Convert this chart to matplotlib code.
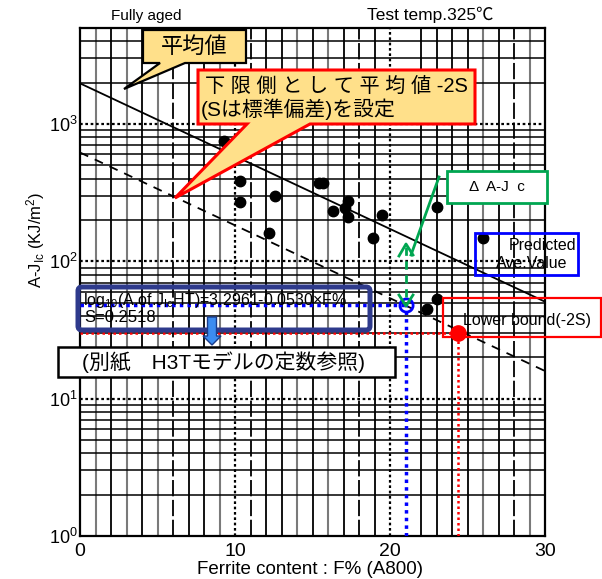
import matplotlib
matplotlib.use('Agg')
import matplotlib.pyplot as plt
from matplotlib.transforms import Affine2D
from matplotlib.patches import Polygon, Rectangle, FancyBboxPatch, FancyArrow
from matplotlib.lines import Line2D
from matplotlib.ticker import FixedLocator, FixedFormatter, NullLocator

plt.rcParams['font.family'] = ['Liberation Sans', 'Noto Sans CJK JP', 'DejaVu Sans']
plt.rcParams['mathtext.fontset'] = 'custom'
plt.rcParams['mathtext.rm'] = 'Liberation Sans'
plt.rcParams['mathtext.it'] = 'Liberation Sans:italic'
plt.rcParams['mathtext.bf'] = 'Liberation Sans:bold'

# ---------------- data ----------------
ferrite = [9.3, 10.3, 10.3, 12.6, 12.2, 15.4, 15.7, 16.3, 17.3, 17.1, 17.3, 19.5, 18.9, 23.0, 26.0, 23.0, 22.4]
ajic = [757, 387, 269, 297, 161, 374, 374, 231, 273, 245, 210, 216, 149, 249, 148, 53, 45]

mean_x = [0, 30]
mean_y = [1977, 50.8]
lower_x = [0, 30]
lower_y = [620, 15.9]

pred_F, pred_J = 21.0, 48.0
low_F, low_J = 24.4, 30.2

x_ticks = [0, 10, 20, 30]
x_tick_labels = ['0', '10', '20', '30']
y_ticks = [1, 10, 100, 1000]
y_tick_labels = [r'$10^{0}$', r'$10^{1}$', r'$10^{2}$', r'$10^{3}$']

W, H = 602, 579
fig = plt.figure(figsize=(W / 100, H / 100), dpi=100)
ax = fig.add_axes([80 / W, 1 - 536 / H, 465 / W, 508 / H])
ax.set_yscale('log')
ax.set_xlim(0, 30)
ax.set_ylim(1, 5000)
ax.xaxis.set_major_locator(FixedLocator(x_ticks))
ax.xaxis.set_major_formatter(FixedFormatter(x_tick_labels))
ax.yaxis.set_major_locator(FixedLocator(y_ticks))
ax.yaxis.set_major_formatter(FixedFormatter(y_tick_labels))
ax.yaxis.set_minor_locator(NullLocator())
ax.tick_params(axis='x', length=0, labelsize=14, pad=5)
ax.tick_params(axis='y', length=0, labelsize=13, pad=1.5)
for s in ax.spines.values():
    s.set_linewidth(1.6)

# graph-paper grid
black_v = [2, 4, 7, 8, 12, 13, 15, 17, 19, 22, 23, 24, 25, 27]
gray_v = [1, 3, 5, 9, 14, 16, 26, 29]
dash_v = [6, 11, 18, 28]
dot_v = [10, 20]
for v in black_v:
    ax.axvline(v, color='k', lw=1.3, zorder=1)
for v in gray_v:
    ax.axvline(v, color='#7a7a7a', lw=1.5, zorder=1)
for v in dash_v:
    ax.axvline(v, color='k', lw=1.3, ls=(0, (9, 2)), zorder=1)
for v in dot_v:
    ax.axvline(v, color='k', lw=1.6, ls=(0, (1.2, 1.2)), zorder=1)
for d in [1, 10, 100, 1000]:
    for m in range(2, 10):
        if m * d < 5000:
            ax.axhline(m * d, color='k', lw=1.1, zorder=1)
for d in [10, 100, 1000]:
    ax.axhline(d, color='k', lw=1.6, ls=(0, (1.2, 1.2)), zorder=1)

# lines and points
ax.plot(mean_x, mean_y, color='k', lw=1.3, zorder=3)
ax.plot(lower_x, lower_y, color='k', lw=1.3, ls=(0, (5, 4)), zorder=3)
ax.plot(ferrite, ajic, 'o', color='k', ms=7.5, zorder=4)

ax.plot([0, pred_F], [pred_J, pred_J], color='#0000ff', lw=2.5, ls=(0, (1, 1.2)), zorder=5)
ax.plot([pred_F, pred_F], [1, pred_J], color='#0000ff', lw=2.5, ls=(0, (1, 1.2)), zorder=5)
ax.plot([0, low_F], [low_J, low_J], color='#ff0000', lw=1.8, ls=(0, (1, 1.2)), zorder=5)
ax.plot([low_F, low_F], [1, low_J], color='#ff0000', lw=1.8, ls=(0, (1, 1.2)), zorder=5)
ax.plot([low_F], [low_J], 'o', color='#ff0000', ms=11, zorder=6)
ax.plot([pred_F], [pred_J], 'o', mfc='none', mec='#0000ff', mew=2, ms=9.5, zorder=6)

# ---------------- annotations in pixel coordinates ----------------
pixu = Affine2D().scale(1 / W, 1 / H) + fig.transFigure


def P(pts):
    return [(x, H - y) for x, y in pts]


def ftext(x, y, s, **kw):
    fig.text(x, H - y, s, transform=pixu, **kw)


def rect(x0, y0, x1, y1, **kw):
    r = Rectangle((x0, H - y1), x1 - x0, y1 - y0, transform=pixu, **kw)
    fig.add_artist(r)


yellow = '#FFE08A'

# 平均値 callout
fig.add_artist(Polygon(P([(143, 30), (246, 30), (246, 63), (185, 63), (124, 89), (160, 63), (143, 63)]),
                       closed=True, fc=yellow, ec='k', lw=1.6, transform=pixu, zorder=10))
ftext(194, 47, '平均値', fontsize=16, ha='center', va='center', zorder=11)

# red callout
fig.add_artist(Polygon(P([(198, 70), (475, 70), (475, 124), (310, 124), (175, 198), (247, 124), (198, 124)]),
                       closed=True, fc=yellow, ec='#ff0000', lw=2.2, transform=pixu, zorder=10))
ftext(336, 86, '下 限 側 と し て 平 均 値 -2S', fontsize=14.5, ha='center', va='center', zorder=11)
ftext(201, 109, '(Sは標準偏差)を設定', fontsize=15, ha='left', va='center', zorder=11)

# green annotation
green = '#00A651'
rect(447, 171, 547, 203, fc='white', ec=green, lw=2, zorder=10)
ftext(497, 187, 'Δ  A-J  c', fontsize=11, ha='center', va='center', zorder=11)
fig.add_artist(Line2D([439, 411], [H - 177, H - 255], color=green, lw=2, transform=pixu, zorder=10))
fig.add_artist(Line2D([399, 406, 413], [H - 256, H - 244, H - 255], color=green, lw=2, transform=pixu, zorder=10))
fig.add_artist(Line2D([406, 406], [H - 247, H - 302], color=green, lw=2, ls=(0, (3, 2)), transform=pixu, zorder=10))
fig.add_artist(Line2D([399, 406, 413], [H - 295, H - 306, H - 295], color=green, lw=2, transform=pixu, zorder=10))

# predicted ave value box
rect(475, 233, 578, 275, fc='none', ec='#0000ff', lw=2, zorder=10)
ftext(576, 246, 'Predicted', fontsize=11.5, ha='right', va='center', zorder=11)
ftext(567, 264, 'Ave.Value', fontsize=11.5, ha='right', va='center', zorder=11)

# lower bound box
rect(443, 298, 601, 337, fc='none', ec='#ff0000', lw=1.6, zorder=10)
ftext(527, 321, 'Lower bound(-2S)', fontsize=11.5, ha='center', va='center', zorder=11)

# formula box
fb = FancyBboxPatch((78, H - 330), 292, 43, boxstyle='round,pad=0,rounding_size=4',
                    fc='none', ec='#2E3A8C', lw=3.6, transform=pixu, zorder=10)
fig.add_artist(fb)
ftext(83, 300, r'log$_{10}$(A.of.J$_{\rm Ic}$HT)=3.2961-0.0530×F%', fontsize=11.5,
      ha='left', va='center', zorder=11)
ftext(84, 318, 'S=0.2518', fontsize=12, ha='left', va='center', zorder=11)

# blue arrow
fig.add_artist(FancyArrow(212, H - 317, 0, -28, width=9, head_width=18, head_length=9,
                          length_includes_head=True, fc='#3C8CF0', ec='#1A3C8C', lw=1,
                          transform=pixu, zorder=10))

# reference note box
rect(58, 347, 395, 377, fc='white', ec='k', lw=1.8, zorder=10)
ftext(224, 362, '(別紙\u3000H3Tモデルの定数参照)', fontsize=15, ha='center', va='center', zorder=11)

# titles and axis labels
ftext(146, 16, 'Fully aged', fontsize=11, ha='center', va='center')
ftext(430, 15, 'Test temp.325℃', fontsize=12.5, ha='center', va='center')
ftext(310, 570, 'Ferrite content : F% (A800)', fontsize=13.5, ha='center', va='center')
ftext(36, 240, r'A-J$_{\rm Ic}$ (KJ/m$^2$)', fontsize=12, ha='center', va='center', rotation=90)

fig.savefig('out.png', dpi=100)
